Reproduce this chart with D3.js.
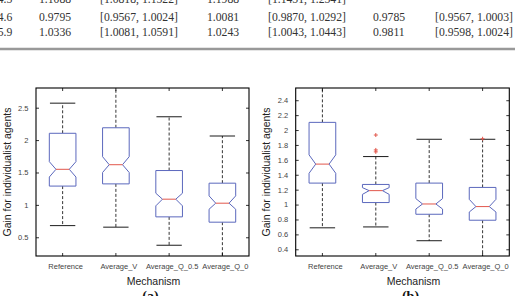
<!DOCTYPE html>
<html>
<head>
<meta charset="utf-8">
<script src="https://cdn.jsdelivr.net/npm/d3@7"></script>
<style>
  body { margin: 0; background: #fff; }
  svg { display: block; }
</style>
</head>
<body>
<div id="chart"></div>
<script>
// table rows shown above the figure (top row is cut by the crop)
var tableRows = [
  ["4.5", "1.1088", "[1.0818, 1.1522]", "1.1988", "[1.1451, 1.2541]", "", ""],
  ["4.6", "0.9795", "[0.9567, 1.0024]", "1.0081", "[0.9870, 1.0292]", "0.9785", "[0.9567, 1.0003]"],
  ["5.9", "1.0336", "[1.0081, 1.0591]", "1.0243", "[1.0043, 1.0443]", "0.9811", "[0.9598, 1.0024]"]
];

var mechanisms = ["Reference", "Average_V", "Average_Q_0.5", "Average_Q_0"];

// panel (a)
var aWhiskerLow  = [0.68, 0.656, 0.377, 0.15];
var aQ1          = [1.29, 1.324, 0.815, 0.733];
var aNotchLow    = [1.43, 1.50, 0.985, 0.933];
var aMedian      = [1.549, 1.62, 1.088, 1.026];
var aNotchHigh   = [1.667, 1.744, 1.18, 1.139];
var aQ3          = [2.105, 2.19, 1.53, 1.335];
var aWhiskerHigh = [2.57, 2.95, 2.36, 2.063];
var aOutliers    = [[], [], [], []];
var aTicks       = [0.5, 1, 1.5, 2, 2.5];

// panel (b)
var bWhiskerLow  = [0.688, 0.70, 0.515, 0.25];
var bQ1          = [1.288, 1.027, 0.87, 0.79];
var bNotchLow    = [1.42, 1.137, 0.94, 0.90];
var bMedian      = [1.543, 1.187, 1.008, 0.973];
var bNotchHigh   = [1.667, 1.227, 1.08, 1.07];
var bQ3          = [2.103, 1.27, 1.288, 1.23];
var bWhiskerHigh = [2.65, 1.644, 1.876, 1.876];
var bOutliers    = [[], [1.933, 1.733, 1.707], [], [1.883]];
var bTicks       = [0.4, 0.6, 0.8, 1, 1.2, 1.4, 1.6, 1.8, 2, 2.2, 2.4];

var W = 520, H = 296;
var boxColor = "#5b68bd";
var medColor = "#e2574c";

var svg = d3.select("#chart").append("svg")
    .attr("width", W)
    .attr("height", H);

// --- table fragment ---
var colX = [12.3, 39, 100, 207, 268, 373, 435];
var rowY = [3, 20.7, 35.7];
tableRows.forEach(function(row, ri) {
  row.forEach(function(cell, ci) {
    svg.append("text")
      .attr("x", colX[ci])
      .attr("y", rowY[ri])
      .attr("text-anchor", ci == 0 ? "end" : "start")
      .attr("font-family", "Liberation Serif, Times New Roman, serif")
      .attr("font-size", 11.7)
      .attr("fill", "#333")
      .text(cell);
  });
});
svg.append("line")
  .attr("x1", 0).attr("x2", 515)
  .attr("y1", 49).attr("y2", 49)
  .attr("stroke", "#999")
  .attr("stroke-width", 2.5);

// --- box plots ---
function drawPanel(opt) {
  var x = d3.scaleBand().domain(mechanisms).range([opt.left, opt.right]).padding(0);
  var y = d3.scaleLinear().domain(opt.domain).range([opt.bottom, opt.top]);
  var bw = x.bandwidth() * 0.5;
  var hw = bw / 2;

  var clipId = "clip-" + opt.name;
  svg.append("clipPath").attr("id", clipId)
    .append("rect")
    .attr("x", opt.left).attr("y", opt.top)
    .attr("width", opt.right - opt.left)
    .attr("height", opt.bottom - opt.top);

  var g = svg.append("g").attr("clip-path", "url(#" + clipId + ")");

  mechanisms.forEach(function(m, i) {
    var cx = x(m) + x.bandwidth() / 2;

    // whiskers
    [[opt.q3[i], opt.whiskerHigh[i]], [opt.q1[i], opt.whiskerLow[i]]].forEach(function(w) {
      g.append("line")
        .attr("x1", cx).attr("x2", cx)
        .attr("y1", y(w[0])).attr("y2", y(w[1]))
        .attr("stroke", "#000")
        .attr("stroke-width", 0.8)
        .attr("stroke-dasharray", "3,2");
      g.append("line")
        .attr("x1", cx - hw / 1.05).attr("x2", cx + hw / 1.05)
        .attr("y1", y(w[1])).attr("y2", y(w[1]))
        .attr("stroke", "#000")
        .attr("stroke-width", 0.9);
    });

    // notched box
    var pts = [
      [cx - hw, y(opt.q3[i])], [cx + hw, y(opt.q3[i])],
      [cx + hw, y(opt.notchHigh[i])], [cx + hw / 2, y(opt.median[i])],
      [cx + hw, y(opt.notchLow[i])], [cx + hw, y(opt.q1[i])],
      [cx - hw, y(opt.q1[i])], [cx - hw, y(opt.notchLow[i])],
      [cx - hw / 2, y(opt.median[i])], [cx - hw, y(opt.notchHigh[i])]
    ];
    g.append("path")
      .attr("d", d3.line()(pts) + "Z")
      .attr("fill", "#fff")
      .attr("stroke", boxColor)
      .attr("stroke-width", 1);

    g.append("line")
      .attr("x1", cx - hw / 2).attr("x2", cx + hw / 2)
      .attr("y1", y(opt.median[i])).attr("y2", y(opt.median[i]))
      .attr("stroke", medColor)
      .attr("stroke-width", 1);

    // outliers as "+"
    opt.outliers[i].forEach(function(v) {
      g.append("path")
        .attr("d", "M" + (cx - 2) + "," + y(v) + "h4M" + cx + "," + (y(v) - 2) + "v4")
        .attr("stroke", medColor)
        .attr("stroke-width", 1);
    });
  });

  // axes with inward ticks (MATLAB style)
  var fmt = function(d) { return String(d); };
  var yl = svg.append("g")
    .attr("transform", "translate(" + opt.left + ",0)")
    .call(d3.axisLeft(y).tickValues(opt.ticks).tickFormat(fmt).tickSizeInner(-3).tickSizeOuter(0).tickPadding(7.5));
  svg.append("g")
    .attr("transform", "translate(" + opt.right + ",0)")
    .call(d3.axisRight(y).tickValues(opt.ticks).tickFormat("").tickSizeInner(-3).tickSizeOuter(0));
  var xb = svg.append("g")
    .attr("transform", "translate(0," + opt.bottom + ")")
    .call(d3.axisBottom(x).tickSizeInner(-3).tickSizeOuter(0).tickPadding(8));
  svg.append("g")
    .attr("transform", "translate(0," + opt.top + ")")
    .call(d3.axisTop(x).tickFormat("").tickSizeInner(-3).tickSizeOuter(0));

  svg.selectAll(".domain").remove();
  [yl, xb].forEach(function(a) {
    a.selectAll("text")
      .attr("font-family", "Liberation Sans, Arial, sans-serif")
      .attr("font-size", 7.5)
      .attr("fill", "#444");
  });
  xb.selectAll("text").attr("dx", 3);
  svg.selectAll(".tick line").attr("stroke", "#000").attr("stroke-width", 0.8);

  svg.append("rect")
    .attr("x", opt.left).attr("y", opt.top)
    .attr("width", opt.right - opt.left)
    .attr("height", opt.bottom - opt.top)
    .attr("fill", "none")
    .attr("stroke", "#000")
    .attr("stroke-width", 1.1);

  svg.append("text")
    .attr("transform", "translate(" + (opt.left - 25.3) + "," + ((opt.top + opt.bottom) / 2) + ") rotate(-90)")
    .attr("text-anchor", "middle")
    .attr("font-family", "Liberation Sans, Arial, sans-serif")
    .attr("font-size", 10.5)
    .attr("fill", "#222")
    .text("Gain for individualist agents");

  svg.append("text")
    .attr("x", (opt.left + opt.right) / 2 + 11)
    .attr("y", 285)
    .attr("text-anchor", "middle")
    .attr("font-family", "Liberation Sans, Arial, sans-serif")
    .attr("font-size", 10.5)
    .attr("fill", "#222")
    .text("Mechanism");

  svg.append("text")
    .attr("x", (opt.left + opt.right) / 2 + 8)
    .attr("y", 301)
    .attr("text-anchor", "middle")
    .attr("font-family", "Liberation Serif, Times New Roman, serif")
    .attr("font-weight", "bold")
    .attr("font-size", 14)
    .attr("fill", "#111")
    .text(opt.caption);
}

drawPanel({
  name: "a", caption: "(a)",
  left: 36, right: 249, top: 88, bottom: 256,
  domain: [0.211, 2.804], ticks: aTicks,
  whiskerLow: aWhiskerLow, q1: aQ1, notchLow: aNotchLow, median: aMedian,
  notchHigh: aNotchHigh, q3: aQ3, whiskerHigh: aWhiskerHigh, outliers: aOutliers
});

drawPanel({
  name: "b", caption: "(b)",
  left: 295.7, right: 509.3, top: 88, bottom: 256,
  domain: [0.31, 2.564], ticks: bTicks,
  whiskerLow: bWhiskerLow, q1: bQ1, notchLow: bNotchLow, median: bMedian,
  notchHigh: bNotchHigh, q3: bQ3, whiskerHigh: bWhiskerHigh, outliers: bOutliers
});
</script>
</body>
</html>
